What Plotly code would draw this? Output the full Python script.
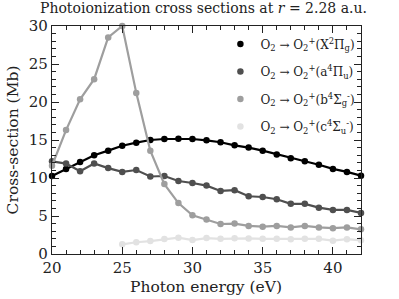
import plotly.graph_objects as go

energy = list(range(20, 43))
energy_c = list(range(25, 43))

sigma_X = [10.26, 11.2, 12.1, 13.0, 13.6, 14.25, 14.65, 15.0, 15.13, 15.17, 15.13, 14.96,
           14.7, 14.3, 14.0, 13.6, 13.1, 12.6, 12.2, 11.75, 11.2, 10.8, 10.3]
sigma_a = [12.2, 11.9, 10.9, 11.9, 11.3, 10.8, 11.05, 10.2, 10.26, 9.6, 9.34, 9.0,
           8.3, 8.4, 7.6, 7.5, 7.2, 6.6, 6.6, 6.1, 5.8, 5.8, 5.4]
sigma_b = [11.6, 16.3, 20.35, 23.0, 28.5, 30.0, 21.2, 13.6, 9.2, 6.7, 5.1, 4.55,
           3.95, 4.0, 3.7, 3.6, 3.7, 3.5, 3.7, 3.5, 3.4, 3.5, 3.25]
sigma_c = [1.27, 1.55, 1.7, 1.97, 2.15, 1.84, 2.1, 2.0, 2.06, 2.05, 2.0, 2.0,
           1.95, 2.0, 2.0, 1.75, 1.95, 1.8]

labels = [
    "O<sub>2</sub> → O<sub>2</sub><sup>+</sup>(X<sup>2</sup>Π<sub>g</sub>)",
    "O<sub>2</sub> → O<sub>2</sub><sup>+</sup>(a<sup>4</sup>Π<sub>u</sub>)",
    "O<sub>2</sub> → O<sub>2</sub><sup>+</sup>(b<sup>4</sup>Σ<sub>g</sub><sup>-</sup>)",
    "O<sub>2</sub> → O<sub>2</sub><sup>+</sup>(c<sup>4</sup>Σ<sub>u</sub><sup>-</sup>)",
]
colors = ["#000000", "#4f4f4f", "#9e9e9e", "#e2e2e2"]
series = [(energy, sigma_X), (energy, sigma_a), (energy, sigma_b), (energy_c, sigma_c)]

FONT = "DejaVu Serif"

fig = go.Figure()
for (xs, ys), lab, col in zip(series, labels, colors):
    fig.add_trace(go.Scatter(x=xs, y=ys, mode="lines+markers", showlegend=False,
                             line=dict(color=col, width=2.2),
                             marker=dict(color=col, size=6.5), cliponaxis=False))
for i, ((xs, ys), lab, col) in enumerate(zip(series, labels, colors)):
    fig.add_trace(go.Scatter(x=[None], y=[None], mode="markers", name=lab,
                             legendgroup=f"g{i}",
                             marker=dict(color=col, size=6.5)))

axis_common = dict(
    showgrid=False, zeroline=False, showline=True, linecolor="#222", linewidth=1.3,
    mirror="allticks", ticks="inside", ticklen=7, tickwidth=1.2, tickcolor="#222",
    tickfont=dict(family=FONT, size=15, color="#222"), automargin=False,
)

fig.update_xaxes(range=[20, 42], tick0=20, dtick=5,
                 minor=dict(ticks="inside", ticklen=4, dtick=1, tickcolor="#222", tickwidth=1.1),
                 **axis_common)
fig.update_yaxes(range=[0, 30], tick0=0, dtick=5,
                 minor=dict(ticks="inside", ticklen=4, dtick=1, tickcolor="#222", tickwidth=1.1),
                 **axis_common)

fig.add_annotation(text="Photon energy (eV)", xref="paper", yref="paper",
                   x=0.498, y=-0.145, xanchor="center", yanchor="middle", showarrow=False,
                   font=dict(family=FONT, size=15.5, color="#222"))
fig.add_annotation(text="Cross-section (Mb)", xref="paper", yref="paper",
                   x=-0.125, y=0.5, xanchor="center", yanchor="middle", showarrow=False,
                   textangle=-90, font=dict(family=FONT, size=15.5, color="#222"))

fig.update_layout(
    width=399, height=299,
    margin=dict(l=52, r=37.5, t=26, b=45),
    paper_bgcolor="white", plot_bgcolor="white",
    title=dict(text="Photoionization cross sections at <i>r</i> = 2.28 a.u.",
               font=dict(family=FONT, size=14, color="#222"),
               x=0.51, xanchor="center", y=0.99, yanchor="top"),
    legend=dict(x=0.545, y=0.985, xanchor="left", yanchor="top",
                bgcolor="rgba(255,255,255,0)", borderwidth=0,
                font=dict(family=FONT, size=12, color="#222"),
                itemwidth=30, tracegroupgap=8.5),
)

fig.write_html("out.html", config={"displayModeBar": False},
               post_script="document.body.style.margin='0';")
